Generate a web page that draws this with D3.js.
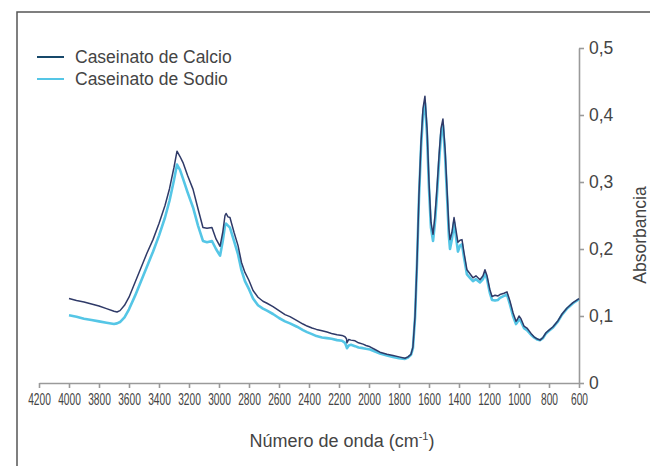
<!DOCTYPE html>
<meta charset="utf-8">
<style>
body { margin: 0; background: #fff; }
svg { font-family: "Liberation Sans", Arial, sans-serif; }
.axis path, .axis line { stroke: #9a9a9a; stroke-width: 1.6; fill: none; }
.axis text { fill: #444; }
</style>
<body>
<script src="https://cdn.jsdelivr.net/npm/d3@7"></script>
<script>
// FTIR spectra, wavenumber (cm-1) descending
var wavenumber = [4000, 3950, 3900, 3850, 3800, 3750, 3700, 3680, 3660, 3630, 3600, 3560, 3520, 3480, 3440, 3400, 3360, 3330, 3300, 3280, 3260, 3240, 3210, 3173, 3140, 3107, 3080, 3047, 3020, 2993, 2975, 2960, 2953, 2940, 2927, 2900, 2873, 2850, 2827, 2800, 2773, 2740, 2707, 2680, 2640, 2600, 2560, 2527, 2480, 2440, 2413, 2380, 2350, 2313, 2280, 2250, 2213, 2180, 2160, 2150, 2147, 2135, 2120, 2093, 2070, 2040, 2020, 1993, 1960, 1927, 1880, 1840, 1800, 1760, 1740, 1720,
  1707, 1693, 1680, 1667, 1653, 1640, 1627, 1613, 1600, 1587, 1573, 1560, 1547, 1533, 1520, 1507, 1493, 1480, 1467, 1460, 1447, 1433, 1420, 1407, 1393, 1380, 1367, 1347, 1327, 1307, 1287, 1260, 1240, 1227, 1213, 1195, 1180, 1160, 1140, 1127, 1100, 1080, 1060, 1040, 1020, 1013, 1000, 987, 967, 947, 920, 900, 880, 860, 840, 820, 800, 773, 740, 713, 680, 660, 640, 620, 600];

var calcio = [0.126, 0.123, 0.121, 0.118, 0.115, 0.111, 0.107, 0.106, 0.108, 0.116, 0.128, 0.15, 0.172, 0.194, 0.214, 0.238, 0.265, 0.29, 0.322, 0.346, 0.338, 0.329, 0.31, 0.289, 0.26, 0.232, 0.231, 0.232, 0.215, 0.204, 0.225, 0.25, 0.253, 0.248, 0.247, 0.225, 0.205, 0.18, 0.165, 0.153, 0.138, 0.128, 0.122, 0.119, 0.114, 0.108, 0.102, 0.099, 0.093, 0.088, 0.085, 0.082, 0.08, 0.078, 0.076, 0.074, 0.072, 0.071, 0.069, 0.066, 0.06, 0.065, 0.064, 0.063, 0.06, 0.058, 0.056, 0.054, 0.05, 0.046, 0.043, 0.041, 0.039, 0.037, 0.039, 0.043,
  0.054, 0.1, 0.18, 0.28, 0.36, 0.41, 0.428, 0.38, 0.3, 0.24, 0.222, 0.25, 0.29, 0.34, 0.38, 0.394, 0.35, 0.29, 0.23, 0.214, 0.225, 0.247, 0.228, 0.21, 0.213, 0.214, 0.195, 0.169, 0.163, 0.157, 0.16, 0.154, 0.16, 0.169, 0.16, 0.14, 0.129, 0.131, 0.13, 0.132, 0.134, 0.136, 0.122, 0.105, 0.092, 0.094, 0.1, 0.096, 0.085, 0.082, 0.074, 0.069, 0.066, 0.064, 0.068, 0.075, 0.079, 0.084, 0.093, 0.103, 0.112, 0.116, 0.12, 0.123, 0.126];

var sodio = [0.101, 0.099, 0.096, 0.094, 0.092, 0.09, 0.088, 0.089, 0.091, 0.098, 0.11, 0.13, 0.152, 0.174, 0.196, 0.22, 0.247, 0.272, 0.303, 0.326, 0.318, 0.305, 0.285, 0.262, 0.235, 0.212, 0.21, 0.212, 0.2, 0.19, 0.212, 0.235, 0.238, 0.235, 0.232, 0.212, 0.192, 0.168, 0.152, 0.14, 0.126, 0.116, 0.111, 0.108, 0.103, 0.097, 0.092, 0.089, 0.084, 0.079, 0.076, 0.073, 0.07, 0.068, 0.067, 0.066, 0.064, 0.063, 0.06, 0.054, 0.052, 0.056, 0.057, 0.055, 0.053, 0.052, 0.051, 0.05, 0.047, 0.044, 0.041, 0.039, 0.037, 0.036, 0.038, 0.042,
  0.052, 0.098, 0.178, 0.275, 0.352, 0.4, 0.418, 0.37, 0.29, 0.232, 0.212, 0.24, 0.28, 0.33, 0.37, 0.385, 0.34, 0.28, 0.218, 0.2, 0.215, 0.24, 0.218, 0.196, 0.205, 0.207, 0.188, 0.162, 0.157, 0.152, 0.155, 0.15, 0.155, 0.164, 0.155, 0.135, 0.124, 0.123, 0.124, 0.127, 0.13, 0.132, 0.117, 0.1, 0.088, 0.09, 0.095, 0.092, 0.082, 0.079, 0.072, 0.068, 0.065, 0.064, 0.067, 0.074, 0.078, 0.083, 0.092, 0.102, 0.111, 0.115, 0.119, 0.122, 0.125];

var xTicks = [4200, 4000, 3800, 3600, 3400, 3200, 3000, 2800, 2600, 2400, 2200, 2000, 1800, 1600, 1400, 1200, 1000, 800, 600];
var yTicks = [0, 0.1, 0.2, 0.3, 0.4, 0.5];
var seriesNames = ["Caseinato de Calcio", "Caseinato de Sodio"];
var seriesColors = ["#2f3a68", "#55c6e6"];

var width = 650, height = 466;

var svg = d3.select("body").append("svg")
    .attr("width", width)
    .attr("height", height);

// outer frame (continues past the right and bottom edges)
svg.append("rect")
    .attr("x", 17).attr("y", 12)
    .attr("width", 700).attr("height", 500)
    .attr("fill", "none")
    .attr("stroke", "#555")
    .attr("stroke-width", 1.5);

var x = d3.scaleLinear().domain([4200, 600]).range([39, 579]);
var y = d3.scaleLinear().domain([0, 0.5]).range([383, 48]);

var xAxis = d3.axisBottom(x).tickValues(xTicks).tickSize(5).tickSizeOuter(0).tickFormat(d3.format("d"));
var yAxis = d3.axisRight(y).tickValues(yTicks).tickSize(5).tickSizeOuter(0)
    .tickFormat(function(d) { return d === 0 ? "0" : d3.format(".1f")(d).replace(".", ","); });

var gx = svg.append("g")
    .attr("class", "x axis")
    .attr("transform", "translate(0," + y(0) + ")")
    .call(xAxis);
// condensed tick labels, squeezed horizontally about the tick
gx.selectAll("text")
    .attr("y", 10)
    .style("font-size", "17px")
    .attr("transform", "scale(0.6,1)");

var gy = svg.append("g")
    .attr("class", "y axis")
    .attr("transform", "translate(" + x(600) + ",0)")
    .call(yAxis);
gy.selectAll("text")
    .attr("x", 10)
    .style("font-size", "17.5px");

// spectra
var line = d3.line()
    .x(function(d) { return x(d[0]); })
    .y(function(d) { return y(d[1]); });

svg.append("path")
    .datum(d3.zip(wavenumber, sodio))
    .attr("fill", "none")
    .attr("stroke", seriesColors[1])
    .attr("stroke-width", 2.6)
    .attr("stroke-linejoin", "round")
    .attr("d", line);

svg.append("path")
    .datum(d3.zip(wavenumber, calcio))
    .attr("fill", "none")
    .attr("stroke", seriesColors[0])
    .attr("stroke-width", 1.5)
    .attr("stroke-linejoin", "round")
    .attr("d", line);

// axis titles
var xt = svg.append("text")
    .attr("x", 342)
    .attr("y", 447)
    .attr("text-anchor", "middle")
    .style("font-size", "18px")
    .style("fill", "#444");
xt.append("tspan").text("Número de onda (cm");
xt.append("tspan").attr("dy", -7).style("font-size", "11px").text("-1");
xt.append("tspan").attr("dy", 7).text(")");

svg.append("text")
    .attr("transform", "translate(646,235) rotate(-90)")
    .attr("text-anchor", "middle")
    .style("font-size", "17.5px")
    .style("fill", "#444")
    .text("Absorbancia");

// legend
var legend = svg.selectAll(".legend")
    .data(seriesNames)
  .enter().append("g")
    .attr("class", "legend")
    .attr("transform", function(d, i) { return "translate(0," + (57 + i * 22) + ")"; });

legend.append("line")
    .attr("x1", 37).attr("x2", 64)
    .attr("stroke", function(d, i) { return i === 0 ? "#17486a" : seriesColors[1]; })
    .attr("stroke-width", 2);

legend.append("text")
    .attr("x", 75)
    .attr("dy", "0.35em")
    .style("font-size", "17.5px")
    .style("fill", "#444")
    .text(function(d) { return d; });
</script>
